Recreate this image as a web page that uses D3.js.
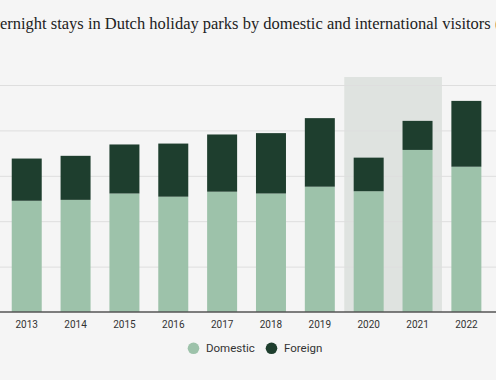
<!DOCTYPE html>
<html><head><meta charset="utf-8">
<script src="https://cdn.jsdelivr.net/npm/d3@7"></script>
<style>
html,body{margin:0;padding:0;background:#f5f5f5;overflow:hidden;}
svg{display:block;}
</style></head>
<body>
<svg id="c" width="496" height="380"></svg>
<script>
const years = ["2013","2014","2015","2016","2017","2018","2019","2020","2021","2022"];
const domestic = [24.5, 24.7, 26.1, 25.4, 26.5, 26.1, 27.6, 26.6, 35.7, 32.0];
const foreign  = [9.3, 9.7, 10.8, 11.7, 12.6, 13.3, 15.1, 7.4, 6.4, 14.5];
const yTicks = [0, 10, 20, 30, 40, 50];
const highlighted = ["2020", "2021"];
const seriesNames = ["Domestic", "Foreign"];
const colors = ["#9dc2aa", "#1e3e2e"];
const titleText = "Overnight stays in Dutch holiday parks by domestic and international visitors (millions)";

const W = 496, H = 380;
const svg = d3.select("#c");
svg.append("rect").attr("width", W).attr("height", H).attr("fill", "#f5f5f5");

const x = d3.scaleBand().domain(years).range([2.3, 490.8]).paddingInner(0.386).paddingOuter(0.193);
const y = d3.scaleLinear().domain([0, 50]).range([312, 85]);

// highlight area
const step = x.step();
const hx0 = x(highlighted[0]) - (step - x.bandwidth()) / 2;
const hx1 = x(highlighted[highlighted.length - 1]) + x.bandwidth() + (step - x.bandwidth()) / 2;
svg.append("rect")
  .attr("x", hx0).attr("y", 77).attr("width", hx1 - hx0).attr("height", y(0) - 77)
  .attr("fill", "#dfe3e0");

// gridlines
const yAxis = d3.axisLeft(y).tickValues(yTicks.filter(d => d > 0)).tickSize(-W).tickFormat("");
const gy = svg.append("g").attr("transform", `translate(${W},0)`).call(yAxis);
gy.select(".domain").remove();
gy.selectAll(".tick line").attr("stroke", "#dedede").attr("stroke-width", 1)
  .attr("transform", `translate(0,0)`);
// axisLeft draws tick lines to the right when tickSize negative; shift group to x=0
gy.attr("transform", "translate(0,0)");

// stacked bars
const rows = years.map((yr, i) => ({year: yr, Domestic: domestic[i], Foreign: foreign[i]}));
const stack = d3.stack().keys(seriesNames)(rows);
svg.append("g").selectAll("g").data(stack).join("g")
  .attr("fill", (d, i) => colors[i])
  .selectAll("rect").data(d => d).join("rect")
  .attr("x", d => x(d.data.year))
  .attr("width", x.bandwidth())
  .attr("y", d => y(d[1]))
  .attr("height", d => y(d[0]) - y(d[1]));

// x axis
const xAxis = d3.axisBottom(x).tickSize(0).tickPadding(9);
const gx = svg.append("g").attr("transform", `translate(0,${y(0)})`).call(xAxis);
gx.select(".domain").remove();
gx.selectAll("text").attr("font-family", "Roboto, sans-serif").attr("font-size", 10)
  .attr("fill", "#333");
svg.append("line").attr("x1", 0).attr("x2", W).attr("y1", y(0)).attr("y2", y(0))
  .attr("stroke", "#555").attr("stroke-width", 1.3);

// title, cropped on the left as in the reference
const title = svg.append("text")
  .attr("font-family", "'Liberation Serif', serif")
  .attr("fill", "#222")
  .attr("y", 29);
// fit font size so visible part "ernight ... visitors" spans ~491px
const probe = svg.append("text").attr("font-family", "'Liberation Serif', serif").attr("font-size", 14)
  .text("ernight stays in Dutch holiday parks by domestic and international visitors");
const wVis = probe.node().getComputedTextLength();
const fs = 14 * 491 / wVis;
probe.attr("font-size", fs).text("Ov");
const wOv = probe.node().getComputedTextLength();
probe.remove();
title.attr("font-size", fs).attr("x", -wOv).text(titleText);

// legend
const leg = svg.append("g").attr("font-family", "Roboto, sans-serif").attr("font-size", 11.5);
const legX = [193.5, 271.5];
seriesNames.forEach((name, i) => {
  leg.append("circle").attr("cx", legX[i]).attr("cy", 348.3).attr("r", 5.8).attr("fill", colors[i]);
  leg.append("text").attr("x", legX[i] + 12.5).attr("y", 352.3).attr("fill", "#333").text(name);
});
</script>
</body></html>
